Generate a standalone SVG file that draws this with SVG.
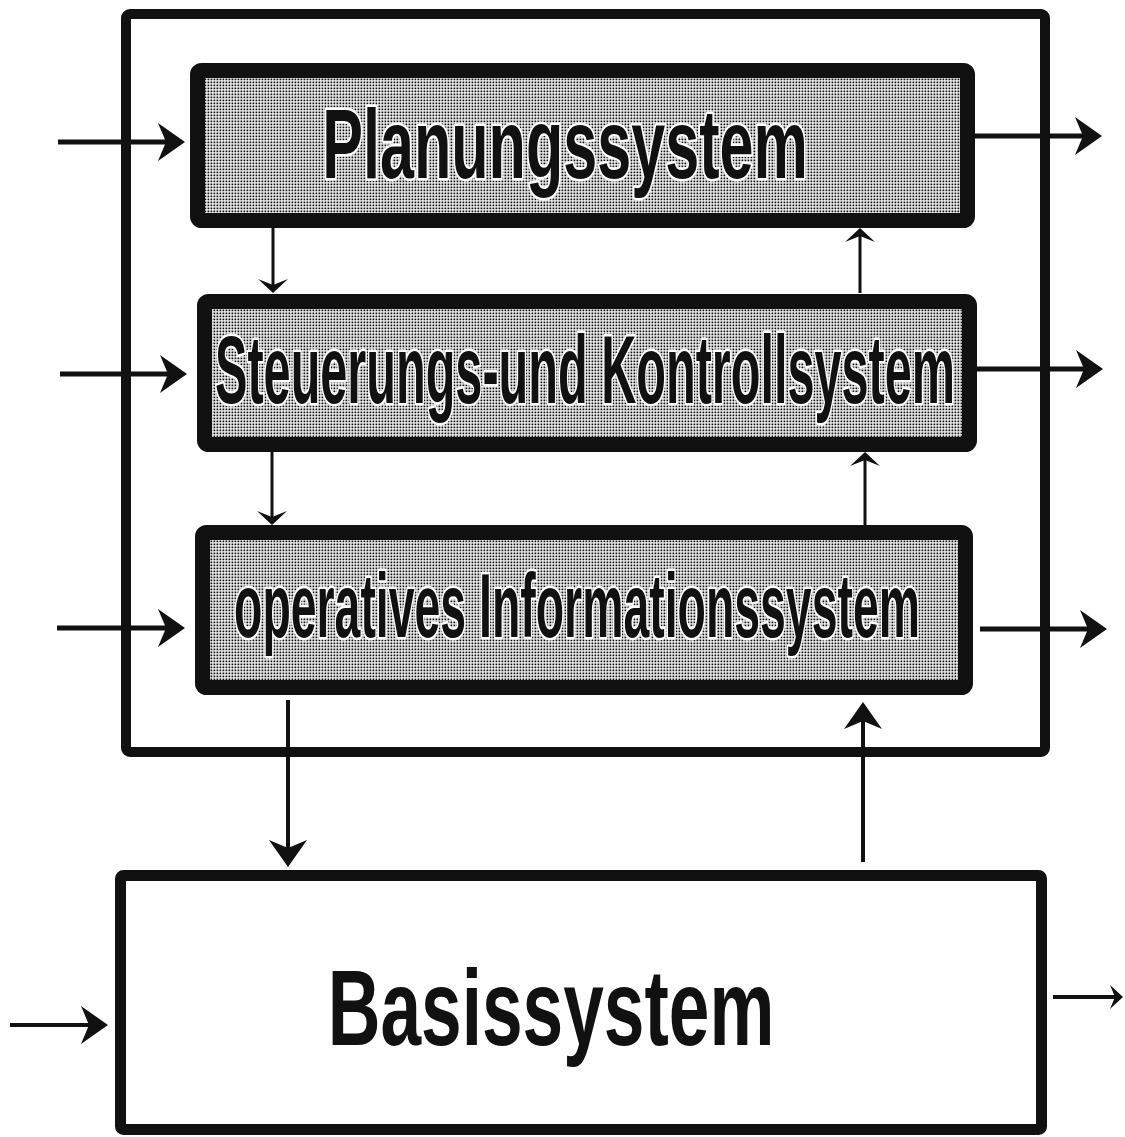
<svg xmlns="http://www.w3.org/2000/svg" width="1125" height="1137" viewBox="0 0 1125 1137">
  <defs>
    <pattern id="dots" x="0" y="0" width="3" height="3" patternUnits="userSpaceOnUse">
      <rect width="3" height="3" fill="#ffffff"/>
      <rect x="0.5" y="0.5" width="1.8" height="1.8" fill="#111"/>
    </pattern>
    <marker id="big" markerUnits="userSpaceOnUse" markerWidth="40" markerHeight="44" viewBox="-22 -22 40 44" refX="0" refY="0" orient="auto" overflow="visible">
      <path d="M8,0 L-19,-19 L-11,0 L-19,19 Z" fill="#111"/>
    </marker>
    <marker id="small" markerUnits="userSpaceOnUse" markerWidth="30" markerHeight="34" viewBox="-15 -17 30 34" refX="0" refY="0" orient="auto" overflow="visible">
      <path d="M4,0 L-10,-15 L-4,0 L-10,15 Z" fill="#111"/>
    </marker>
    <marker id="tiny" markerUnits="userSpaceOnUse" markerWidth="20" markerHeight="28" viewBox="-12 -14 20 28" refX="0" refY="0" orient="auto" overflow="visible">
      <path d="M3,0 L-10,-12 L-5,0 L-10,12 Z" fill="#111"/>
    </marker>
  </defs>
  <style>
    .frame { fill: none; stroke: #111; stroke-width: 10; }
    .sys { fill: url(#dots); stroke: #111; stroke-width: 15; }
    .basis { fill: #ffffff; stroke: #111; stroke-width: 11; }
    .lbl { font-family: "Liberation Sans", Arial, sans-serif; font-weight: bold; fill: #111; stroke: #ffffff; stroke-width: 5; paint-order: stroke; stroke-linejoin: round; text-anchor: middle; }
    .blbl { font-family: "Liberation Sans", Arial, sans-serif; font-weight: bold; fill: #111; text-anchor: middle; }
    .a5 { fill: none; stroke: #111; stroke-width: 5; marker-end: url(#big); }
    .a4 { fill: none; stroke: #111; stroke-width: 4; marker-end: url(#big); }
    .a3 { fill: none; stroke: #111; stroke-width: 3; marker-end: url(#small); }
    .at { fill: none; stroke: #111; stroke-width: 4; marker-end: url(#tiny); }
  </style>
  <rect width="1125" height="1137" fill="#ffffff"/>

  <g id="frame">
    <rect class="frame" x="126" y="14" width="919" height="738" rx="4"/>
  </g>

  <g id="planungssystem">
    <rect class="sys" x="197.5" y="70.5" width="770" height="150" rx="4"/>
    <text class="lbl" transform="translate(565,178) scale(0.63,1)" x="0" y="0" font-size="98" textLength="771" lengthAdjust="spacingAndGlyphs">Planungssystem</text>
  </g>

  <g id="steuerungssystem">
    <rect class="sys" x="204.5" y="301.5" width="765" height="143" rx="4"/>
    <text class="lbl" transform="translate(585,403) scale(0.51,1)" x="0" y="0" font-size="97" textLength="1451" lengthAdjust="spacingAndGlyphs">Steuerungs-und Kontrollsystem</text>
  </g>

  <g id="informationssystem">
    <rect class="sys" x="202.5" y="532.5" width="763" height="155" rx="4"/>
    <text class="lbl" transform="translate(577,637) scale(0.52,1)" x="0" y="0" font-size="91" textLength="1319" lengthAdjust="spacingAndGlyphs">operatives Informationssystem</text>
  </g>

  <g id="basissystem">
    <rect class="basis" x="120.5" y="875.5" width="921" height="254" rx="3"/>
    <text class="blbl" transform="translate(551,1045) scale(0.68,1)" x="0" y="0" font-size="108" textLength="657" lengthAdjust="spacingAndGlyphs">Basissystem</text>
  </g>

  <g id="connectors">
    <path class="a5" d="M58,142 H177"/>
    <path class="a5" d="M60,374 H179"/>
    <path class="a5" d="M57,628 H177"/>
    <path class="a5" d="M975,136 H1094"/>
    <path class="a5" d="M977,369 H1095"/>
    <path class="a5" d="M980,629 H1099"/>
    <path class="a4" d="M10,1025 H100"/>
    <path class="at" d="M1053,997 H1120"/>
    <path class="a3" d="M273,228 V289"/>
    <path class="a3" d="M272,452 V521"/>
    <path class="a3" d="M865,525 V456"/>
    <path class="a3" d="M860,293 V232"/>
    <path class="a4" d="M288,700 V859"/>
    <path class="a4" d="M863,862 V710"/>
  </g>
</svg>
